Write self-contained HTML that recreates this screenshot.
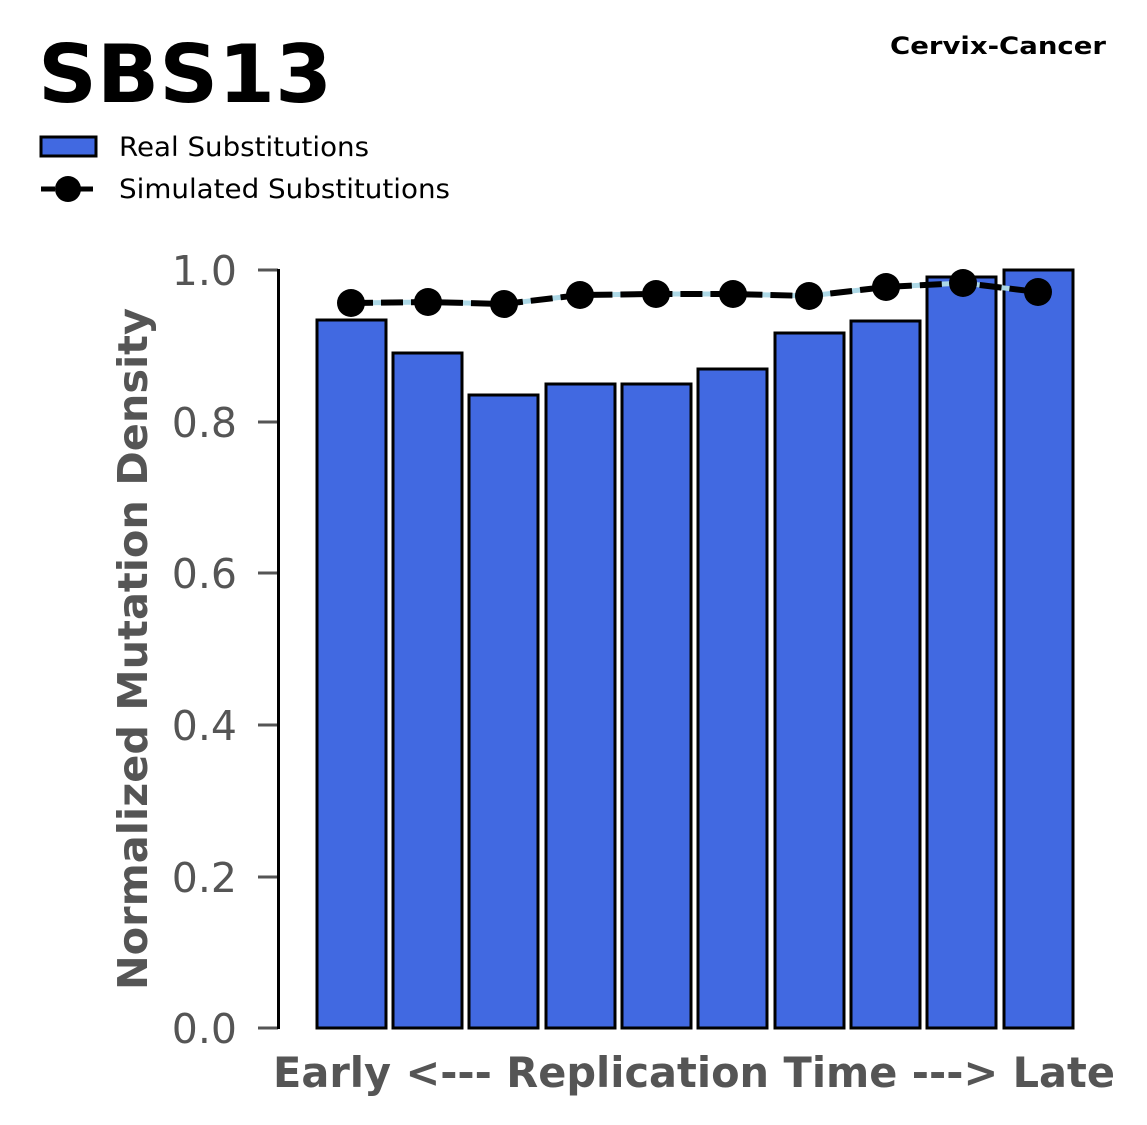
<!DOCTYPE html>
<html><head><meta charset="utf-8"><style>
html,body{margin:0;padding:0;background:#fff;}
svg{display:block;}
text{font-family:"DejaVu Sans","Liberation Sans",sans-serif;}
</style></head><body>
<svg width="1147" height="1125" viewBox="0 0 1147 1125" xmlns="http://www.w3.org/2000/svg">
<text x="38" y="102" font-size="80" font-weight="bold" fill="#000" textLength="294" lengthAdjust="spacingAndGlyphs">SBS13</text>
<text x="890" y="54" font-size="24" font-weight="bold" fill="#000" textLength="216" lengthAdjust="spacingAndGlyphs">Cervix-Cancer</text>
<rect x="41" y="137" width="55" height="19" fill="#4169e1" stroke="#000" stroke-width="3"/>
<text x="119" y="156" font-size="27" fill="#000" textLength="250" lengthAdjust="spacingAndGlyphs">Real Substitutions</text>
<line x1="41" y1="189" x2="96" y2="189" stroke="#000" stroke-width="5" stroke-dasharray="14,5"/>
<circle cx="68" cy="189" r="13" fill="#000"/>
<text x="119" y="198" font-size="27" fill="#000" textLength="331" lengthAdjust="spacingAndGlyphs">Simulated Substitutions</text>
<g fill="#555" font-size="41" text-anchor="end">
<text x="237" y="1043">0.0</text>
<text x="237" y="892">0.2</text>
<text x="237" y="740">0.4</text>
<text x="237" y="588">0.6</text>
<text x="237" y="437">0.8</text>
<text x="237" y="285">1.0</text>
</g>
<g stroke="#555" stroke-width="3">
<line x1="258" y1="1028" x2="278" y2="1028"/>
<line x1="258" y1="877" x2="278" y2="877"/>
<line x1="258" y1="725" x2="278" y2="725"/>
<line x1="258" y1="573" x2="278" y2="573"/>
<line x1="258" y1="422" x2="278" y2="422"/>
<line x1="258" y1="270" x2="278" y2="270"/>
</g>
<line x1="278.5" y1="269" x2="278.5" y2="1029" stroke="#000" stroke-width="3"/>
<text transform="translate(147,990) rotate(-90)" font-size="41" font-weight="bold" fill="#555" textLength="682" lengthAdjust="spacingAndGlyphs">Normalized Mutation Density</text>
<text x="273" y="1087" font-size="42" font-weight="bold" fill="#555" textLength="842" lengthAdjust="spacingAndGlyphs">Early &lt;--- Replication Time ---&gt; Late</text>
<g fill="#4169e1" stroke="#000" stroke-width="3">
<rect x="317" y="320" width="69" height="708"/>
<rect x="393" y="353" width="69" height="675"/>
<rect x="469" y="395" width="69" height="633"/>
<rect x="546" y="384" width="69" height="644"/>
<rect x="622" y="384" width="69" height="644"/>
<rect x="698" y="369" width="69" height="659"/>
<rect x="775" y="333" width="69" height="695"/>
<rect x="851" y="321" width="69" height="707"/>
<rect x="927" y="277" width="69" height="751"/>
<rect x="1004" y="270" width="69" height="758"/>
</g>
<polyline points="351,303 428,302 504,304 580,295 656,294 733,294 809,296 886,287 963,283 1038,292" fill="none" stroke="#add8e6" stroke-width="5"/>
<polyline points="351,303 428,302 504,304 580,295 656,294 733,294 809,296 886,287 963,283 1038,292" fill="none" stroke="#000" stroke-width="6" stroke-dasharray="22,8"/>
<g fill="#000">
<circle cx="351" cy="303" r="14"/><circle cx="428" cy="302" r="14"/><circle cx="504" cy="304" r="14"/>
<circle cx="580" cy="295" r="14"/><circle cx="656" cy="294" r="14"/><circle cx="733" cy="294" r="14"/>
<circle cx="809" cy="296" r="14"/><circle cx="886" cy="287" r="14"/><circle cx="963" cy="283" r="14"/>
<circle cx="1038" cy="292" r="14"/>
</g>
</svg>
</body></html>
